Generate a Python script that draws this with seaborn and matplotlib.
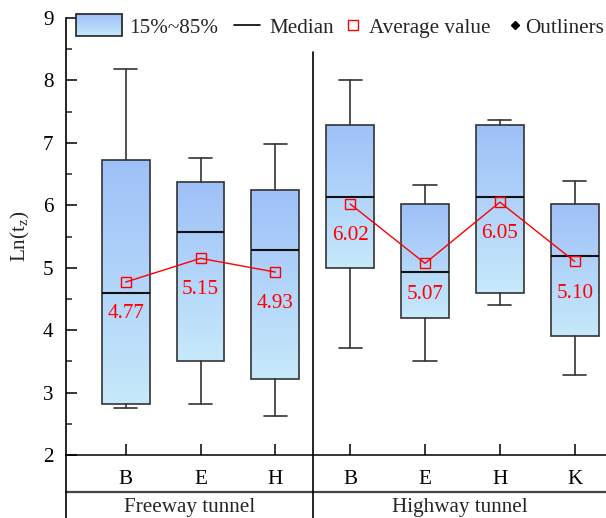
import numpy as np
import pandas as pd
import matplotlib
matplotlib.use("Agg")
import matplotlib.pyplot as plt
import matplotlib.transforms as mtrans
from matplotlib.colors import LinearSegmentedColormap
from matplotlib.patches import Rectangle
from matplotlib.lines import Line2D
import seaborn as sns

# ---- data -------------------------------------------------------------
groups = ["Freeway tunnel"] * 3 + ["Highway tunnel"] * 4
sites = ["B", "E", "H", "B", "E", "H", "K"]
p15 = [2.82, 3.51, 3.21, 5.00, 4.20, 4.59, 3.91]
p85 = [6.72, 6.38, 6.24, 7.28, 6.02, 7.28, 6.02]
medians = [4.59, 5.57, 5.28, 6.14, 4.93, 6.14, 5.19]
whisker_low = [2.76, 2.82, 2.62, 3.72, 3.51, 4.40, 3.28]
whisker_high = [8.18, 6.76, 6.98, 8.00, 6.32, 7.36, 6.39]
means = [4.77, 5.15, 4.93, 6.02, 5.07, 6.05, 5.10]
group_names = ["Freeway tunnel", "Highway tunnel"]
yticks = [2, 3, 4, 5, 6, 7, 8, 9]

# ---- style ------------------------------------------------------------
sns.set_style("ticks")
plt.rcParams["font.family"] = ["Liberation Serif", "DejaVu Serif"]
plt.rcParams["mathtext.fontset"] = "custom"
plt.rcParams["mathtext.rm"] = "Liberation Serif"
plt.rcParams["mathtext.it"] = "Liberation Serif:italic"
plt.rcParams["mathtext.default"] = "regular"
FS = 15.2
W, H = 606, 518

fig = plt.figure(figsize=(W / 100, H / 100), dpi=100)
ax_bottom_px, ax_top_px, ax_left_px = 455, 18, 66
ax = fig.add_axes([ax_left_px / W, (H - ax_bottom_px) / H,
                   (W - ax_left_px) / W, (ax_bottom_px - ax_top_px) / H])

pos = np.arange(len(sites))
xlim = (-0.798, 6.418)
ylim = (2, 9)

cmap = LinearSegmentedColormap.from_list("boxgrad", ["#c6e9fb", "#9ec0f8"])
grad = np.linspace(0, 1, 256).reshape(-1, 1)

stats = [dict(med=m, q1=lo, q3=hi, whislo=wl, whishi=wh, fliers=[], label=s)
         for m, lo, hi, wl, wh, s in zip(medians, p15, p85, whisker_low,
                                          whisker_high, sites)]
box_w = 0.64
edge = "#333333"
bp = ax.bxp(stats, positions=pos, widths=box_w, capwidths=0.31,
            patch_artist=True, showfliers=False, manage_ticks=False,
            boxprops=dict(facecolor="none", edgecolor=edge, linewidth=1.2),
            whiskerprops=dict(color=edge, linewidth=1.2),
            capprops=dict(color=edge, linewidth=1.2),
            medianprops=dict(color="#111111", linewidth=1.5))

# vertical gradient inside each box
for box, p, lo, hi in zip(bp["boxes"], pos, p15, p85):
    im = ax.imshow(grad, cmap=cmap, origin="lower", aspect="auto",
                   extent=[p - box_w / 2, p + box_w / 2, lo, hi],
                   zorder=1.5, interpolation="bilinear")
    im.set_clip_path(box)

# average values, one connected line per tunnel type
df = pd.DataFrame({"pos": pos, "mean": means, "group": groups})
sns.lineplot(data=df, x="pos", y="mean", units="group", estimator=None,
             color="red", linewidth=1.0, marker="s", markersize=7.8,
             markerfacecolor="none", markeredgecolor="red",
             markeredgewidth=1.0, ax=ax, legend=False, zorder=3)
for p, m in zip(pos, means):
    ax.annotate(f"{m:.2f}", (p, m), xytext=(0, -26), textcoords="offset points",
                ha="center", va="baseline", color="red", fontsize=FS, zorder=4)

ax.set_xlim(*xlim)
ax.set_ylim(*ylim)
ax.set_xlabel("")
ax.set_ylabel("Ln(t$_z$)", fontsize=FS, labelpad=8)

ax.set_xticks(pos)
ax.set_xticklabels(sites, fontsize=FS)
ax.set_yticks(yticks)
ax.set_yticklabels([str(v) for v in yticks], fontsize=FS)
ax.set_yticks(np.arange(2.5, 9, 1.0), minor=True)
ax.tick_params(axis="y", which="major", direction="in", length=8, width=1.1,
               pad=9, colors="black")
ax.tick_params(axis="y", which="minor", direction="in", length=4, width=1.1)
ax.tick_params(axis="x", which="major", direction="in", length=8, width=1.1,
               pad=11, colors="black")
ax.tick_params(axis="x", which="minor", bottom=False)

sns.despine(ax=ax, top=True, right=True)
ax.spines["left"].set_linewidth(1.2)
ax.spines["bottom"].set_linewidth(1.1)
for s in ("left", "bottom"):
    ax.spines[s].set_color("black")

# category table below the axis
span = ax_bottom_px - ax_top_px
def yax(px):
    return (ax_bottom_px - px) / span

blend = mtrans.blended_transform_factory(ax.transData, ax.transAxes)
ax.add_line(Line2D([0, 1], [yax(492)] * 2, transform=ax.transAxes,
                   clip_on=False, color="#444444", linewidth=1.6))
ax.add_line(Line2D([0, 0], [0, yax(520)], transform=ax.transAxes,
                   clip_on=False, color="black", linewidth=1.2))
ax.add_line(Line2D([2.5, 2.5], [yax(520), yax(52)], transform=blend,
                   clip_on=False, color="black", linewidth=1.2))
group_centers = [(xlim[0] + 2.5) / 2, (2.5 + xlim[1]) / 2]
for gx, name in zip(group_centers, group_names):
    ax.text(gx, yax(512), name, transform=blend, ha="center", va="baseline",
            fontsize=FS)

# legend row drawn in pixel coordinates
lax = fig.add_axes([0, 0, 1, 1], zorder=5)
lax.set_xlim(0, W)
lax.set_ylim(H, 0)
lax.set_axis_off()
ly = 25
base = 33
lax.imshow(grad, cmap=cmap, origin="lower", aspect="auto",
           extent=[75.7, 122, 36, 14], interpolation="bilinear")
lax.add_patch(Rectangle((75.7, 14), 46.3, 22, fill=False, ec="#222222", lw=1.2))
lax.text(129, base, "15%~85%", fontsize=FS, va="baseline", ha="left")
lax.add_line(Line2D([233.8, 260], [ly, ly], color="black", linewidth=1.2))
lax.text(269, base, "Median", fontsize=FS, va="baseline", ha="left")
lax.plot([353], [ly], marker="s", markersize=7.8, markerfacecolor="none",
         markeredgecolor="red", markeredgewidth=1.0, linestyle="none")
lax.text(369.4, base, "Average value", fontsize=FS, va="baseline", ha="left")
lax.plot([515], [ly], marker="D", markersize=4.2, color="black",
         linestyle="none")
lax.text(604, base, "Outliners", fontsize=FS, va="baseline", ha="right")
lax.set_xlim(0, W)
lax.set_ylim(H, 0)

fig.savefig("out.png", dpi=100)
